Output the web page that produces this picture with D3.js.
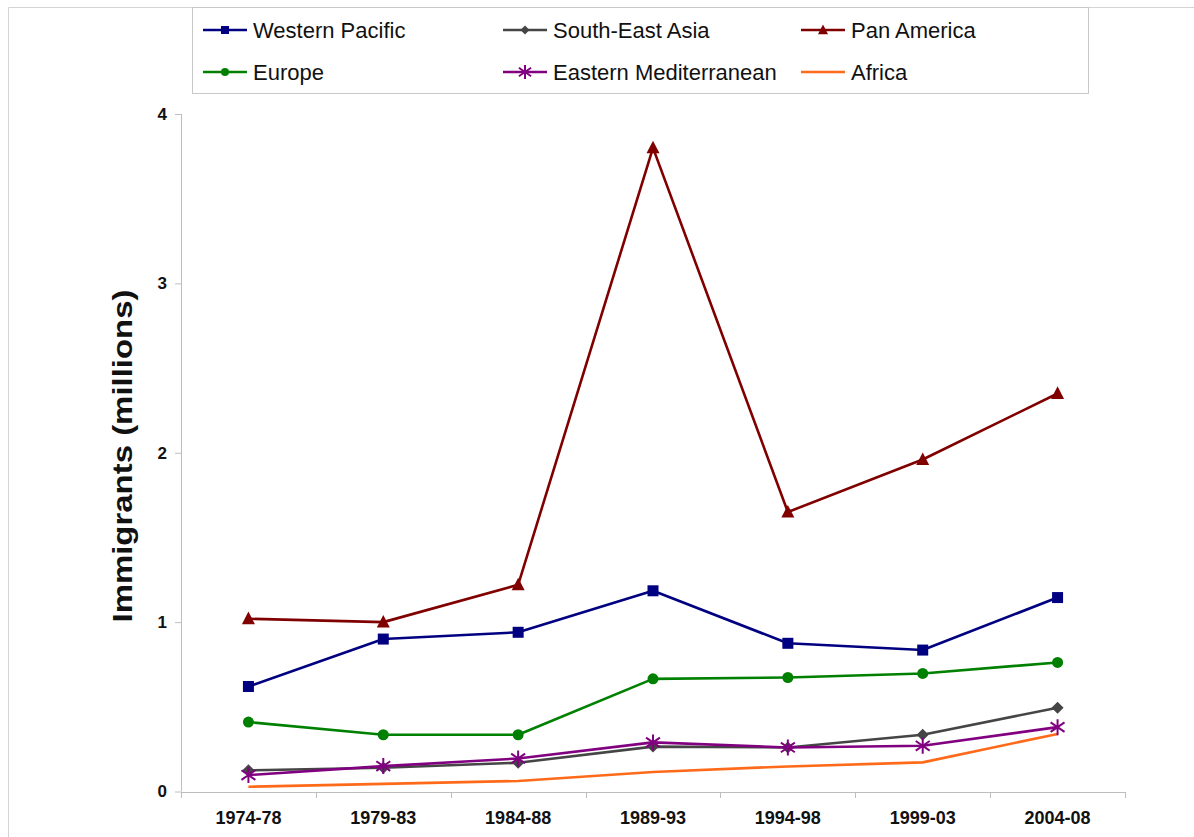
<!DOCTYPE html>
<html><head><meta charset="utf-8">
<script src="https://cdn.jsdelivr.net/npm/d3@7"></script>
<style>body{margin:0;background:#fff}svg{display:block;font-family:"Liberation Sans",Arial,sans-serif}</style>
</head><body><svg id="c" width="1194" height="837"></svg>
<script>
const periods = ["1974-78","1979-83","1984-88","1989-93","1994-98","1999-03","2004-08"];
const westernPacific = [0.62,0.90,0.94,1.185,0.875,0.835,1.145];
const southEastAsia = [0.125,0.14,0.17,0.265,0.26,0.335,0.495];
const panAmerica = [1.02,1.00,1.22,3.80,1.65,1.96,2.35];
const europe = [0.41,0.335,0.335,0.665,0.673,0.697,0.762];
const easternMed = [0.097,0.15,0.195,0.29,0.26,0.27,0.38];
const africa = [0.028,0.045,0.062,0.115,0.148,0.172,0.34];
const yTicks = [0,1,2,3,4];
const seriesNames = ["Western Pacific","South-East Asia","Pan America","Europe","Eastern Mediterranean","Africa"];

const series = [
  {name:seriesNames[0], values:westernPacific, color:"#000080", marker:"square"},
  {name:seriesNames[1], values:southEastAsia, color:"#454545", marker:"diamond"},
  {name:seriesNames[2], values:panAmerica, color:"#800000", marker:"triangle"},
  {name:seriesNames[3], values:europe, color:"#008000", marker:"circle"},
  {name:seriesNames[4], values:easternMed, color:"#800080", marker:"star"},
  {name:seriesNames[5], values:africa, color:"#ff6a1a", marker:"none"}
];

const svg = d3.select("#c");
// outer frame (left/top)
svg.append("line").attr("x1",8.5).attr("x2",8.5).attr("y1",7.5).attr("y2",837).attr("stroke","#d4d4d4");
svg.append("line").attr("x1",8.5).attr("x2",1194).attr("y1",7.5).attr("y2",7.5).attr("stroke","#d4d4d4");

const x = d3.scaleBand().domain(periods).range([181,1125]).padding(0);
const y = d3.scaleLinear().domain([0,4]).range([791.5,114]);
const cx = d => x(d) + x.bandwidth()/2;

// y axis
const yAxis = svg.append("g").attr("transform","translate(181,0)")
  .call(d3.axisLeft(y).tickValues(yTicks).tickSize(6).tickPadding(8).tickFormat(d3.format("d")));
yAxis.select(".domain").attr("stroke","#bdbdbd").attr("d","M0.5,114V791.5");
yAxis.selectAll(".tick line").attr("stroke","#bdbdbd");
yAxis.selectAll(".tick text").attr("font-size",17).attr("font-weight","bold").attr("fill","#111").attr("font-family","Liberation Sans, Arial, sans-serif");

// x axis
const xAxis = svg.append("g").attr("transform","translate(0,792)")
  .call(d3.axisBottom(x).tickSize(0).tickPadding(19));
xAxis.select(".domain").attr("stroke","#bdbdbd").attr("d","M181,0.5H1125");
xAxis.selectAll(".tick text").attr("font-size",18).attr("font-weight","bold").attr("fill","#111").attr("font-family","Liberation Sans, Arial, sans-serif");
const bounds = periods.map(p => x(p)).concat([x.range()[1]]);
xAxis.selectAll("line.bt").data(bounds).enter().append("line").attr("class","bt")
  .attr("x1",d=>Math.round(d)+0.5).attr("x2",d=>Math.round(d)+0.5).attr("y1",0).attr("y2",6).attr("stroke","#bdbdbd");

// y title
svg.append("text").attr("transform","translate(132,456) rotate(-90)")
  .attr("text-anchor","middle").attr("font-size",28).attr("font-weight","bold").attr("fill","#111")
  .attr("textLength",333).attr("lengthAdjust","spacingAndGlyphs")
  .text("Immigrants (millions)");

function drawMarker(g, type, color, s){
  if(type==="square") g.append("rect").attr("x",-s/2).attr("y",-s/2).attr("width",s).attr("height",s).attr("fill",color);
  else if(type==="diamond") g.append("path").attr("d",`M0,${-s/2}L${s/2},0L0,${s/2}L${-s/2},0Z`).attr("fill",color);
  else if(type==="triangle") g.append("path").attr("d",`M0,${-s*0.55}L${s/2},${s*0.42}L${-s/2},${s*0.42}Z`).attr("fill",color);
  else if(type==="circle") g.append("circle").attr("r",s/2).attr("fill",color);
  else if(type==="star"){
    const r=s/2;
    g.append("path").attr("d",`M0,${-r}V${r}M${-r*0.87},${-r*0.6}L${r*0.87},${r*0.6}M${-r*0.87},${r*0.6}L${r*0.87},${-r*0.6}`)
      .attr("stroke",color).attr("stroke-width",2).attr("fill","none");
  }
}
const markerSize = {square:11,diamond:12,triangle:13,circle:11,star:16,none:0};

const line = d3.line().x((d,i)=>cx(periods[i])).y(d=>y(d));
const order = [5,1,4,3,0,2];
order.forEach(k=>{
  const s = series[k];
  svg.append("path").datum(s.values).attr("d",line).attr("fill","none").attr("stroke",s.color).attr("stroke-width",2.6).attr("stroke-linejoin","round");
  s.values.forEach((v,i)=>{
    const g = svg.append("g").attr("transform",`translate(${cx(periods[i])},${y(v)})`);
    drawMarker(g, s.marker, s.color, markerSize[s.marker]);
  });
});

// legend
svg.append("rect").attr("x",192.5).attr("y",7.5).attr("width",896).attr("height",86).attr("fill","#fff").attr("stroke","#c8c8c8");
const legCols = [203,503,801], legRows = [30,72];
const legMarker = {square:8,diamond:9,triangle:10,circle:8,star:14,none:0};
series.forEach((s,i)=>{
  const lx = legCols[i%3], ly = legRows[Math.floor(i/3)];
  const g = svg.append("g").attr("transform",`translate(${lx},${ly})`);
  g.append("line").attr("x1",0).attr("x2",44).attr("y1",0).attr("y2",0).attr("stroke",s.color).attr("stroke-width",2.6);
  const m = g.append("g").attr("transform","translate(22,0)");
  drawMarker(m, s.marker, s.color, legMarker[s.marker]);
  g.append("text").attr("x",50).attr("y",0).attr("dy","0.35em").attr("font-size",22).attr("fill","#111").text(s.name);
});
</script></body></html>
